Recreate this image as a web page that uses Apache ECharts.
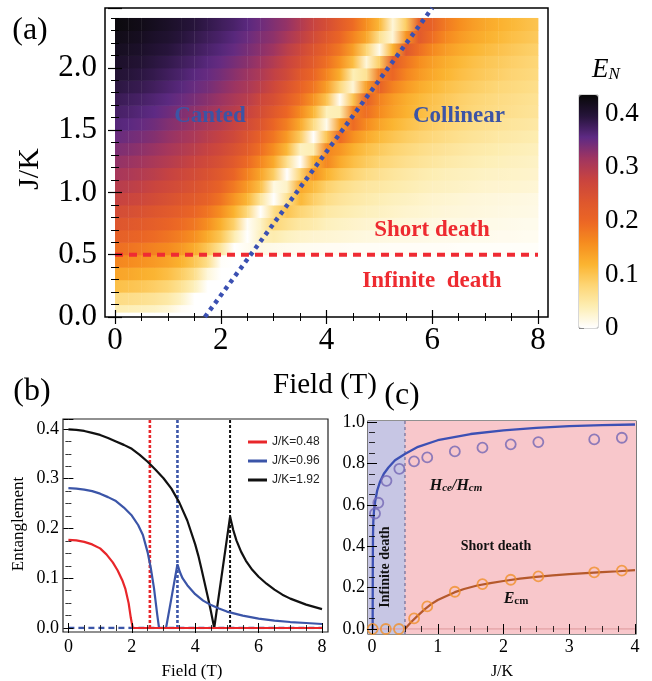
<!DOCTYPE html>
<html>
<head>
<meta charset="utf-8">
<script src="https://cdn.jsdelivr.net/npm/echarts@6/dist/echarts.min.js"></script>
<style>
  html, body { margin: 0; padding: 0; background: #fff; }
  #chart { width: 652px; height: 681px; }
</style>
</head>
<body>
<div id="chart"></div>
<script>
// ---------- (a) entanglement map E_N(field, J/K) ----------
const fieldGrid = [0, 0.25, 0.5, 0.75, 1, 1.25, 1.5, 1.75, 2, 2.25, 2.5, 2.75, 3, 3.25, 3.5, 3.75, 4,
  4.25, 4.5, 4.75, 5, 5.25, 5.5, 5.75, 6, 6.25, 6.5, 6.75, 7, 7.25, 7.5, 7.75, 8];
const jkRows = [0.05, 0.15, 0.25, 0.35, 0.45, 0.55, 0.65, 0.75, 0.85, 0.95, 1.05, 1.15,
  1.25, 1.35, 1.45, 1.55, 1.65, 1.75, 1.85, 1.95, 2.05, 2.15, 2.25, 2.35];
// one row per J/K value, one entry per field value
const entRows = [
  [.04,.038,.035,.031,.022,.006,0,0,0,0,0,0,0,0,0,0,0,0,0,0,0,0,0,0,0,0,0,0,0,0,0,0,0],
  [.07,.067,.063,.057,.048,.03,0,0,0,0,0,0,0,0,0,0,0,0,0,0,0,0,0,0,0,0,0,0,0,0,0,0,0],
  [.105,.101,.096,.088,.079,.06,.035,0,0,0,0,0,0,0,0,0,0,0,0,0,0,0,0,0,0,0,0,0,0,0,0,0,0],
  [.135,.131,.124,.117,.107,.09,.065,.019,0,0,0,0,0,0,0,0,0,0,0,0,0,0,0,0,0,0,0,0,0,0,0,0,0],
  [.165,.16,.153,.145,.135,.12,.097,.065,.003,0,0,0,0,0,0,0,0,0,0,0,0,0,0,0,0,0,0,0,0,0,0,0,0],
  [.19,.185,.178,.169,.161,.147,.127,.096,.055,0,.008,.014,.011,.009,.008,.007,.006,.006,.005,.005,.005,.004,.004,.004,.004,.004,.003,.003,.003,.003,.003,.003,.003],
  [.215,.21,.203,.194,.184,.172,.155,.127,.097,.041,0,.035,.043,.033,.028,.025,.023,.021,.019,.017,.016,.015,.014,.013,.012,.011,.011,.01,.01,.009,.009,.008,.008],
  [.237,.232,.225,.216,.206,.194,.18,.156,.123,.085,.005,.03,.078,.063,.05,.044,.035,.031,.028,.025,.023,.021,.019,.018,.016,.015,.014,.013,.012,.012,.011,.01,.01],
  [.258,.253,.246,.237,.228,.217,.202,.183,.156,.12,.074,0,.065,.1,.08,.065,.05,.044,.039,.035,.032,.029,.026,.024,.022,.02,.019,.018,.017,.016,.015,.014,.013],
  [.28,.275,.269,.259,.249,.238,.226,.21,.185,.15,.116,.054,0,.06,.115,.088,.068,.057,.05,.044,.039,.035,.032,.029,.026,.024,.022,.02,.019,.018,.017,.016,.015],
  [.295,.29,.284,.274,.265,.255,.243,.228,.207,.178,.145,.106,.014,.03,.13,.11,.085,.07,.06,.052,.05,.045,.041,.037,.034,.032,.03,.028,.026,.025,.024,.023,.022],
  [.31,.305,.298,.291,.281,.271,.259,.245,.229,.205,.17,.134,.089,0,.08,.155,.12,.098,.082,.07,.062,.055,.049,.044,.04,.037,.035,.033,.031,.03,.029,.028,.027],
  [.325,.32,.314,.306,.297,.287,.276,.263,.249,.228,.196,.164,.129,.062,0,.12,.165,.13,.107,.092,.08,.072,.064,.058,.053,.048,.044,.041,.038,.036,.034,.032,.03],
  [.338,.333,.327,.32,.31,.301,.291,.279,.265,.247,.223,.19,.157,.114,.032,.04,.165,.15,.123,.105,.093,.083,.075,.068,.062,.057,.052,.048,.045,.042,.039,.037,.035],
  [.35,.345,.34,.333,.323,.314,.305,.292,.281,.266,.242,.211,.182,.145,.092,0,.1,.195,.155,.13,.112,.1,.09,.082,.075,.069,.063,.058,.054,.05,.047,.044,.042],
  [.362,.358,.352,.345,.335,.327,.318,.306,.295,.279,.261,.239,.203,.173,.13,.07,.01,.14,.195,.16,.135,.118,.106,.096,.088,.08,.074,.068,.063,.059,.055,.052,.049],
  [.372,.368,.362,.356,.347,.337,.328,.318,.307,.294,.279,.257,.23,.199,.161,.116,.036,.04,.17,.19,.16,.138,.122,.11,.1,.092,.085,.078,.073,.068,.064,.06,.057],
  [.382,.377,.372,.365,.358,.349,.34,.33,.319,.306,.293,.271,.252,.22,.188,.151,.101,.005,.1,.214,.17,.144,.126,.113,.103,.095,.087,.081,.076,.071,.067,.063,.06],
  [.392,.387,.383,.376,.368,.36,.35,.343,.331,.319,.307,.29,.267,.242,.209,.182,.141,.075,.02,.14,.21,.17,.146,.128,.115,.105,.097,.09,.084,.078,.074,.07,.066],
  [.4,.396,.391,.385,.377,.369,.359,.351,.342,.33,.318,.304,.284,.264,.23,.202,.166,.125,.038,.06,.18,.2,.168,.146,.13,.118,.108,.1,.093,.087,.081,.077,.073],
  [.408,.404,.4,.392,.386,.378,.37,.36,.351,.341,.33,.317,.298,.277,.252,.224,.189,.154,.108,.02,.09,.22,.185,.158,.14,.126,.115,.106,.099,.093,.087,.082,.078],
  [.416,.412,.408,.401,.395,.387,.379,.37,.362,.352,.341,.329,.316,.291,.269,.24,.21,.18,.14,.08,.01,.12,.232,.19,.162,.143,.13,.119,.11,.103,.096,.09,.085],
  [.423,.419,.415,.408,.403,.395,.387,.378,.37,.36,.349,.337,.327,.309,.288,.261,.232,.202,.168,.132,.061,.02,.15,.228,.19,.163,.146,.133,.123,.114,.106,.1,.094],
  [.43,.426,.422,.416,.41,.402,.395,.386,.378,.37,.359,.347,.335,.323,.301,.278,.254,.224,.194,.155,.114,.02,.09,.22,.21,.178,.158,.143,.131,.122,.114,.107,.1]
];
// boundaries drawn over the map
const deathLineField = [0, 8];
const deathLineJK = [0.5, 0.5];
const hcmLineField = [1.7, 6.0];
const hcmLineJK = [0, 2.48];
const colorbarTicks = [0, 0.1, 0.2, 0.3, 0.4];
const enMax = 0.435;
const enPalette = ['#ffffff', '#fdeeb4', '#fdd676', '#fbb430', '#f68d1f', '#ec6724',
  '#dd562e', '#c9443f', '#a03560', '#5e2a84', '#26143a', '#080808'];

// ---------- (b) entanglement vs field ----------
const bField048 = [0, 0.25, 0.5, 0.75, 1, 1.2, 1.4, 1.55, 1.7, 1.8, 1.9, 1.97, 2.03, 8];
const bEnt048 = [0.177, 0.176, 0.173, 0.168, 0.16, 0.148, 0.132, 0.116, 0.096, 0.078, 0.05, 0.02, 0, 0];
const bField096 = [0, 0.25, 0.5, 0.75, 1, 1.25, 1.5, 1.75, 2, 2.2, 2.35, 2.5, 2.6, 2.7, 2.8, 2.86, 3.08, 3.25,
  3.44, 3.52, 3.6, 3.75, 4, 4.25, 4.5, 4.75, 5, 5.5, 6, 6.5, 7, 7.5, 8];
const bEnt096 = [0.281, 0.28, 0.278, 0.275, 0.27, 0.263, 0.255, 0.242, 0.226, 0.207, 0.187, 0.152, 0.12, 0.08, 0.028, 0, 0, 0.06,
  0.128, 0.112, 0.1, 0.086, 0.068, 0.055, 0.046, 0.039, 0.033, 0.025, 0.019, 0.015, 0.012, 0.01, 0.008];
const bField192 = [0, 0.25, 0.5, 0.75, 1, 1.25, 1.5, 1.75, 2, 2.25, 2.5, 2.75, 3, 3.25, 3.5, 3.75, 4, 4.1, 4.2, 4.3, 4.4, 4.5, 4.6,
  5.1, 5.2, 5.3, 5.45, 5.6, 5.8, 6, 6.25, 6.5, 6.75, 7, 7.5, 8];
const bEnt192 = [0.399, 0.398, 0.396, 0.392, 0.388, 0.382, 0.375, 0.368, 0.36, 0.348, 0.334, 0.318, 0.301, 0.28, 0.252, 0.216, 0.168, 0.145, 0.118, 0.09, 0.062, 0.032, 0,
  0.224, 0.197, 0.176, 0.153, 0.135, 0.117, 0.103, 0.089, 0.077, 0.067, 0.059, 0.047, 0.038];
const bCriticalField = [2.57, 3.44, 5.1];   // H_cm for J/K = 0.48, 0.96, 1.92
const bNames = ['J/K=0.48', 'J/K=0.96', 'J/K=1.92'];

// ---------- (c) critical fields vs J/K ----------
const cCurveJK = [0.01, 0.012, 0.015, 0.02, 0.03, 0.05, 0.08, 0.12, 0.18, 0.25, 0.35, 0.5, 0.7, 1.0, 1.5, 2.0, 2.5, 3.0, 3.5, 4.0];
const cCurveRatio = [0, 0.3, 0.45, 0.52, 0.57, 0.62, 0.67, 0.71, 0.75, 0.78, 0.815, 0.845, 0.88, 0.912, 0.942, 0.96, 0.972, 0.98, 0.985, 0.988];
const cEcmJK = [0.5, 0.6, 0.7, 0.8, 0.9, 1.0, 1.1, 1.26, 1.4, 1.6, 1.8, 2.0, 2.25, 2.5, 2.75, 3.0, 3.25, 3.5, 3.75, 4.0];
const cEcm = [0, 0.035, 0.066, 0.095, 0.12, 0.14, 0.155, 0.178, 0.193, 0.21, 0.222, 0.232, 0.243, 0.252, 0.259, 0.265, 0.27, 0.275, 0.279, 0.284];
const cRatioPtsJK = [0.046, 0.096, 0.22, 0.416, 0.64, 0.84, 1.26, 1.68, 2.11, 2.53, 3.38, 3.80];
const cRatioPts = [0.558, 0.61, 0.716, 0.774, 0.81, 0.829, 0.858, 0.876, 0.892, 0.903, 0.916, 0.924];
const cEcmPtsJK = [0.01, 0.21, 0.41, 0.64, 0.84, 1.26, 1.68, 2.11, 2.53, 3.38, 3.80];
const cEcmPts = [0, 0, 0, 0.051, 0.109, 0.18, 0.217, 0.238, 0.254, 0.274, 0.282];
const cRegionStart = [-0.06, 0.5];
const cRegionEnd = [0.5, 4.0];
const cBoundaryJK = 0.5;
const cBaseJK = [0, 4];
const cBaseVal = [0, 0];

const serif = "'Liberation Serif', 'Times New Roman', serif";
const sans = "'Liberation Sans', Arial, sans-serif";

const zip = (xs, ys) => xs.map((x, i) => [x, ys[i]]);

// each map cell runs between two neighbouring field samples of one J/K row
const heatData = [];
entRows.forEach((row, r) => {
    for (let c = 0; c < row.length - 1; c++) {
        heatData.push([fieldGrid[c], fieldGrid[c + 1], jkRows[r], row[c], row[c + 1]]);
    }
});

const enColor = v => echarts.color.lerp(Math.min(Math.max(v / enMax, 0), 1), enPalette);

function renderCell(params, api) {
    const j = api.value(2);
    const y0 = Math.max(j - 0.05, 0.04), y1 = Math.min(j + 0.05, 2.42);
    const p0 = api.coord([api.value(0), y1]);
    const p1 = api.coord([api.value(1), y0]);
    return {
        type: 'rect',
        shape: { x: p0[0], y: p0[1], width: p1[0] - p0[0] + 0.4, height: p1[1] - p0[1] + 0.6 },
        style: {
            fill: new echarts.graphic.LinearGradient(0, 0, 1, 0, [
                { offset: 0, color: enColor(api.value(3)) },
                { offset: 1, color: enColor(api.value(4)) }
            ])
        }
    };
}

// shaded J/K regions in (c), full frame height
function renderRegion(params, api) {
    const a = api.coord([api.value(0), 0]);
    const b = api.coord([api.value(1), 0]);
    const cs = params.coordSys;
    return {
        type: 'rect',
        shape: { x: a[0], y: cs.y, width: b[0] - a[0], height: cs.height },
        style: { fill: params.dataIndex === 0 ? '#c7c6e4' : '#f8c7cb' }
    };
}

function frameAxis(extra) {
    return Object.assign({
        type: 'value',
        axisLine: { show: false },
        splitLine: { show: false },
        axisTick: { inside: true, length: 5, lineStyle: { color: '#000', width: 1 } },
        minorTick: { show: true, splitNumber: 4, length: 3, lineStyle: { color: '#000', width: 0.8 } },
        axisLabel: { fontFamily: serif, fontSize: 18, color: '#000' },
        z: 5
    }, extra);
}
const hideLabel = { show: false };
const fix1 = v => v.toFixed(1);

function vline(x, y0, y1) { return [[x, y0], [x, y1]]; }

function txt(x, y, text, size, extra) {
    return Object.assign({
        type: 'text', x: x, y: y, z: 100,
        style: Object.assign({ text: text, fontFamily: serif, fontSize: size, fill: '#000',
            align: 'center', verticalAlign: 'middle' }, (extra && extra.style) || {})
    }, (extra && extra.el) || {});
}

const option = {
    animation: false,
    backgroundColor: '#fff',
    grid: [
        { left: 115, top: 8, width: 423, height: 309 },                                  // 0 (a) data
        { left: 105, top: 8, width: 443, height: 309, show: true, borderColor: '#000', borderWidth: 1.5, backgroundColor: 'transparent' }, // 1 (a) frame
        { left: 68.4, top: 419, width: 253.6, height: 209 },                             // 2 (b) data
        { left: 63, top: 419, width: 265, height: 213, show: true, borderColor: '#222', borderWidth: 1.2, backgroundColor: 'transparent' }, // 3 (b) frame
        { left: 368, top: 421, width: 268, height: 213, show: true, borderColor: '#222', borderWidth: 1.2, backgroundColor: 'transparent' }, // 4 (c) frame
        { left: 372, top: 422, width: 263, height: 207 },                                // 5 (c) data
        { left: 579, top: 95, width: 19, height: 233, show: true, borderColor: '#999', borderWidth: 0.8, backgroundColor: 'transparent' }   // 6 colorbar
    ],
    xAxis: [
        frameAxis({ gridIndex: 0, position: 'bottom', min: 0, max: 8, interval: 2,
            axisTick: { inside: true, length: 7, lineStyle: { color: '#000', width: 1.2 } },
            minorTick: { show: true, splitNumber: 4, length: 4, lineStyle: { color: '#000', width: 1 } },
            axisLabel: { fontFamily: serif, fontSize: 31, color: '#000', margin: 8 } }),
        frameAxis({ gridIndex: 0, position: 'top', min: 0, max: 8, interval: 2,
            axisTick: { inside: true, length: 7, lineStyle: { color: '#000', width: 1.2 } },
            minorTick: { show: true, splitNumber: 4, length: 4, lineStyle: { color: '#000', width: 1 } },
            axisLabel: hideLabel }),
        frameAxis({ gridIndex: 2, position: 'bottom', offset: 4, min: 0, max: 8, interval: 2,
            axisLabel: { fontFamily: serif, fontSize: 18, color: '#000', margin: 6 } }),
        frameAxis({ gridIndex: 2, position: 'top', min: 0, max: 8, interval: 2, axisLabel: hideLabel }),
        { type: 'value', gridIndex: 4, min: -0.06, max: 4, show: false },
        frameAxis({ gridIndex: 5, position: 'bottom', offset: 5, min: 0, max: 4, interval: 1,
            axisLabel: { fontFamily: serif, fontSize: 18, color: '#000', margin: 4 } }),
        frameAxis({ gridIndex: 5, position: 'top', offset: 1, min: 0, max: 4, interval: 1, axisLabel: hideLabel }),
        { type: 'value', gridIndex: 6, min: 0, max: 1, show: false }
    ],
    yAxis: [
        frameAxis({ gridIndex: 0, position: 'left', offset: 10, min: 0, max: 2.48, interval: 0.5,
            axisTick: { inside: true, length: 7, lineStyle: { color: '#000', width: 1.2 } },
            minorTick: { show: true, splitNumber: 5, length: 4, lineStyle: { color: '#000', width: 1 } },
            axisLabel: { fontFamily: serif, fontSize: 31, color: '#000', margin: 8, formatter: fix1, showMaxLabel: false } }),
        frameAxis({ gridIndex: 0, position: 'right', offset: 10, min: 0, max: 2.48, interval: 0.5,
            axisTick: { inside: true, length: 7, lineStyle: { color: '#000', width: 1.2 } },
            minorTick: { show: true, splitNumber: 5, length: 4, lineStyle: { color: '#000', width: 1 } },
            axisLabel: hideLabel }),
        frameAxis({ gridIndex: 2, position: 'left', offset: 5.4, min: 0, max: 0.42, interval: 0.1,
            axisLabel: { fontFamily: serif, fontSize: 18, color: '#000', margin: 4, formatter: fix1, showMaxLabel: false } }),
        frameAxis({ gridIndex: 2, position: 'right', offset: 6, min: 0, max: 0.42, interval: 0.1, axisLabel: hideLabel }),
        { type: 'value', gridIndex: 4, min: -0.024, max: 1.005, show: false },
        frameAxis({ gridIndex: 5, position: 'left', offset: 4, min: 0, max: 1, interval: 0.2,
            axisLabel: { fontFamily: serif, fontSize: 18, color: '#000', margin: 3, formatter: fix1 } }),
        frameAxis({ gridIndex: 5, position: 'right', offset: 1, min: 0, max: 1, interval: 0.2, axisLabel: hideLabel }),
        { type: 'value', gridIndex: 6, position: 'right', min: 0, max: enMax, interval: 0.1,
            axisLine: { show: false }, splitLine: { show: false },
            axisTick: { show: true, inside: false, length: 5, lineStyle: { color: '#888' } },
            minorTick: { show: true, splitNumber: 4, length: 3, lineStyle: { color: '#aaa' } },
            axisLabel: { fontFamily: serif, fontSize: 27, color: '#000', margin: 7, showMaxLabel: false,
                formatter: v => (colorbarTicks.indexOf(v) === 0 ? '0' : v.toFixed(1)) } }
    ],
    visualMap: {
        type: 'continuous', seriesIndex: 0, dimension: 3, min: 0, max: enMax,
        calculable: false, hoverLink: false, show: true, orient: 'vertical',
        left: 579, top: 95, itemWidth: 19, itemHeight: 233, padding: 0,
        inRange: { color: enPalette }
    },
    legend: {
        data: bNames, orient: 'vertical', left: 248, top: 436, padding: 0,
        itemWidth: 19, itemHeight: 3, itemGap: 7, icon: 'rect',
        textStyle: { fontFamily: sans, fontSize: 12, color: '#222' }
    },
    series: [
        { type: 'custom', xAxisIndex: 0, yAxisIndex: 0, data: heatData, renderItem: renderCell,
            encode: { x: [0, 1], y: 2 }, z: 1, silent: true },
        { type: 'line', xAxisIndex: 0, yAxisIndex: 0, data: zip(deathLineField, deathLineJK), showSymbol: false,
            lineStyle: { color: '#ef2b33', width: 4, type: [8, 6] }, z: 3 },
        { type: 'line', xAxisIndex: 0, yAxisIndex: 0, data: zip(hcmLineField, hcmLineJK), showSymbol: false,
            lineStyle: { color: '#3b50b2', width: 4.5, type: [4, 4.5] }, z: 3 },

        // (b)
        { type: 'line', xAxisIndex: 2, yAxisIndex: 2, data: [[0, 0], [8, 0]], showSymbol: false,
            lineStyle: { color: '#3b55a8', width: 2.5, type: [6, 4] }, z: 2 },
        { type: 'line', xAxisIndex: 2, yAxisIndex: 2, data: vline(bCriticalField[0], 0, 0.42), showSymbol: false,
            lineStyle: { color: '#e8262a', width: 2.6, type: [3, 2] }, z: 2 },
        { type: 'line', xAxisIndex: 2, yAxisIndex: 2, data: vline(bCriticalField[1], 0, 0.42), showSymbol: false,
            lineStyle: { color: '#3b55a8', width: 2.6, type: [3, 2] }, z: 2 },
        { type: 'line', xAxisIndex: 2, yAxisIndex: 2, data: vline(bCriticalField[2], 0, 0.42), showSymbol: false,
            lineStyle: { color: '#111', width: 2, type: [3, 2] }, z: 2 },
        { type: 'line', name: bNames[2], xAxisIndex: 2, yAxisIndex: 2, data: zip(bField192, bEnt192), showSymbol: false,
            lineStyle: { color: '#111', width: 2.2 }, itemStyle: { color: '#111' }, z: 3 },
        { type: 'line', name: bNames[1], xAxisIndex: 2, yAxisIndex: 2, data: zip(bField096, bEnt096), showSymbol: false,
            lineStyle: { color: '#3b55a8', width: 2.2 }, itemStyle: { color: '#3b55a8' }, z: 3 },
        { type: 'line', name: bNames[0], xAxisIndex: 2, yAxisIndex: 2, data: zip(bField048, bEnt048), showSymbol: false,
            lineStyle: { color: '#e8262a', width: 2.2 }, itemStyle: { color: '#e8262a' }, z: 4 },

        // (c)
        { type: 'custom', xAxisIndex: 4, yAxisIndex: 4, data: zip(cRegionStart, cRegionEnd), renderItem: renderRegion,
            encode: { x: [0, 1] }, z: 0, silent: true },
        { type: 'line', xAxisIndex: 4, yAxisIndex: 4, data: vline(cBoundaryJK, -0.024, 1.005), showSymbol: false,
            lineStyle: { color: '#8a82a8', width: 1.6, type: [3, 3] }, z: 1 },
        { type: 'line', xAxisIndex: 5, yAxisIndex: 5, data: zip(cBaseJK, cBaseVal), showSymbol: false,
            lineStyle: { color: '#e4a3a6', width: 1.5 }, z: 1 },
        { type: 'line', xAxisIndex: 5, yAxisIndex: 5, data: zip(cCurveJK, cCurveRatio), showSymbol: false,
            lineStyle: { color: '#3c50b4', width: 2.3 }, z: 3 },
        { type: 'line', xAxisIndex: 5, yAxisIndex: 5, data: zip(cEcmJK, cEcm), showSymbol: false,
            lineStyle: { color: '#b5592c', width: 2.2 }, z: 3 },
        { type: 'scatter', xAxisIndex: 5, yAxisIndex: 5, data: zip(cRatioPtsJK, cRatioPts), symbol: 'circle',
            symbolSize: 10, itemStyle: { color: 'rgba(0,0,0,0)', borderColor: '#7366b4', borderWidth: 1.8 }, z: 4 },
        { type: 'scatter', xAxisIndex: 5, yAxisIndex: 5, data: zip(cEcmPtsJK, cEcmPts), symbol: 'circle',
            symbolSize: 10, itemStyle: { color: 'rgba(0,0,0,0)', borderColor: '#f0902a', borderWidth: 1.8 }, z: 4 }
    ],
    graphic: [
        txt(30, 31, '(a)', 32),
        txt(30, 169, 'J/K', 30, { el: { rotation: Math.PI / 2 } }),
        txt(325, 385, 'Field (T)', 29),
        txt(606, 70, '{e|E}{n|N}', 27, { style: {
            rich: { e: { fontFamily: serif, fontSize: 27, fontStyle: 'italic', fill: '#000', verticalAlign: 'bottom' },
                    n: { fontFamily: serif, fontSize: 17, fontStyle: 'italic', fill: '#000', verticalAlign: 'bottom' } } } }),
        txt(210, 116, 'Canted', 23, { style: { fontWeight: 'bold', fill: '#3c54a5' } }),
        txt(459, 116, 'Collinear', 23, { style: { fontWeight: 'bold', fill: '#3c54a5' } }),
        txt(432, 230, 'Short death', 23, { style: { fontWeight: 'bold', fill: '#ee2a30' } }),
        txt(432, 281, 'Infinite  death', 23, { style: { fontWeight: 'bold', fill: '#ee2a30' } }),

        txt(32, 392, '(b)', 32),
        txt(19, 524, 'Entanglement', 17, { el: { rotation: Math.PI / 2 } }),
        txt(192, 672, 'Field (T)', 17),

        txt(402, 396, '(c)', 32),
        txt(502, 672, 'J/K', 16),
        txt(456, 486, '{a|H}{b|ce}{a|/H}{b|cm}', 16, { style: {
            rich: { a: { fontFamily: serif, fontSize: 16, fontStyle: 'italic', fontWeight: 'bold', fill: '#111', verticalAlign: 'bottom' },
                    b: { fontFamily: serif, fontSize: 11, fontStyle: 'italic', fontWeight: 'bold', fill: '#111', verticalAlign: 'bottom' } } } }),
        txt(496, 546, 'Short death', 14, { style: { fontWeight: 'bold', fill: '#111' } }),
        txt(516, 599, '{a|E}{b|cm}', 16, { style: {
            rich: { a: { fontFamily: serif, fontSize: 16, fontStyle: 'italic', fontWeight: 'bold', fill: '#111', verticalAlign: 'bottom' },
                    b: { fontFamily: serif, fontSize: 11, fontWeight: 'bold', fill: '#111', verticalAlign: 'bottom' } } } }),
        txt(385, 567, 'Infinite death', 14, { el: { rotation: Math.PI / 2 }, style: { fontWeight: 'bold', fill: '#111' } })
    ]
};

const chart = echarts.init(document.getElementById('chart'), null, { renderer: 'canvas' });
chart.setOption(option);
</script>
</body>
</html>
